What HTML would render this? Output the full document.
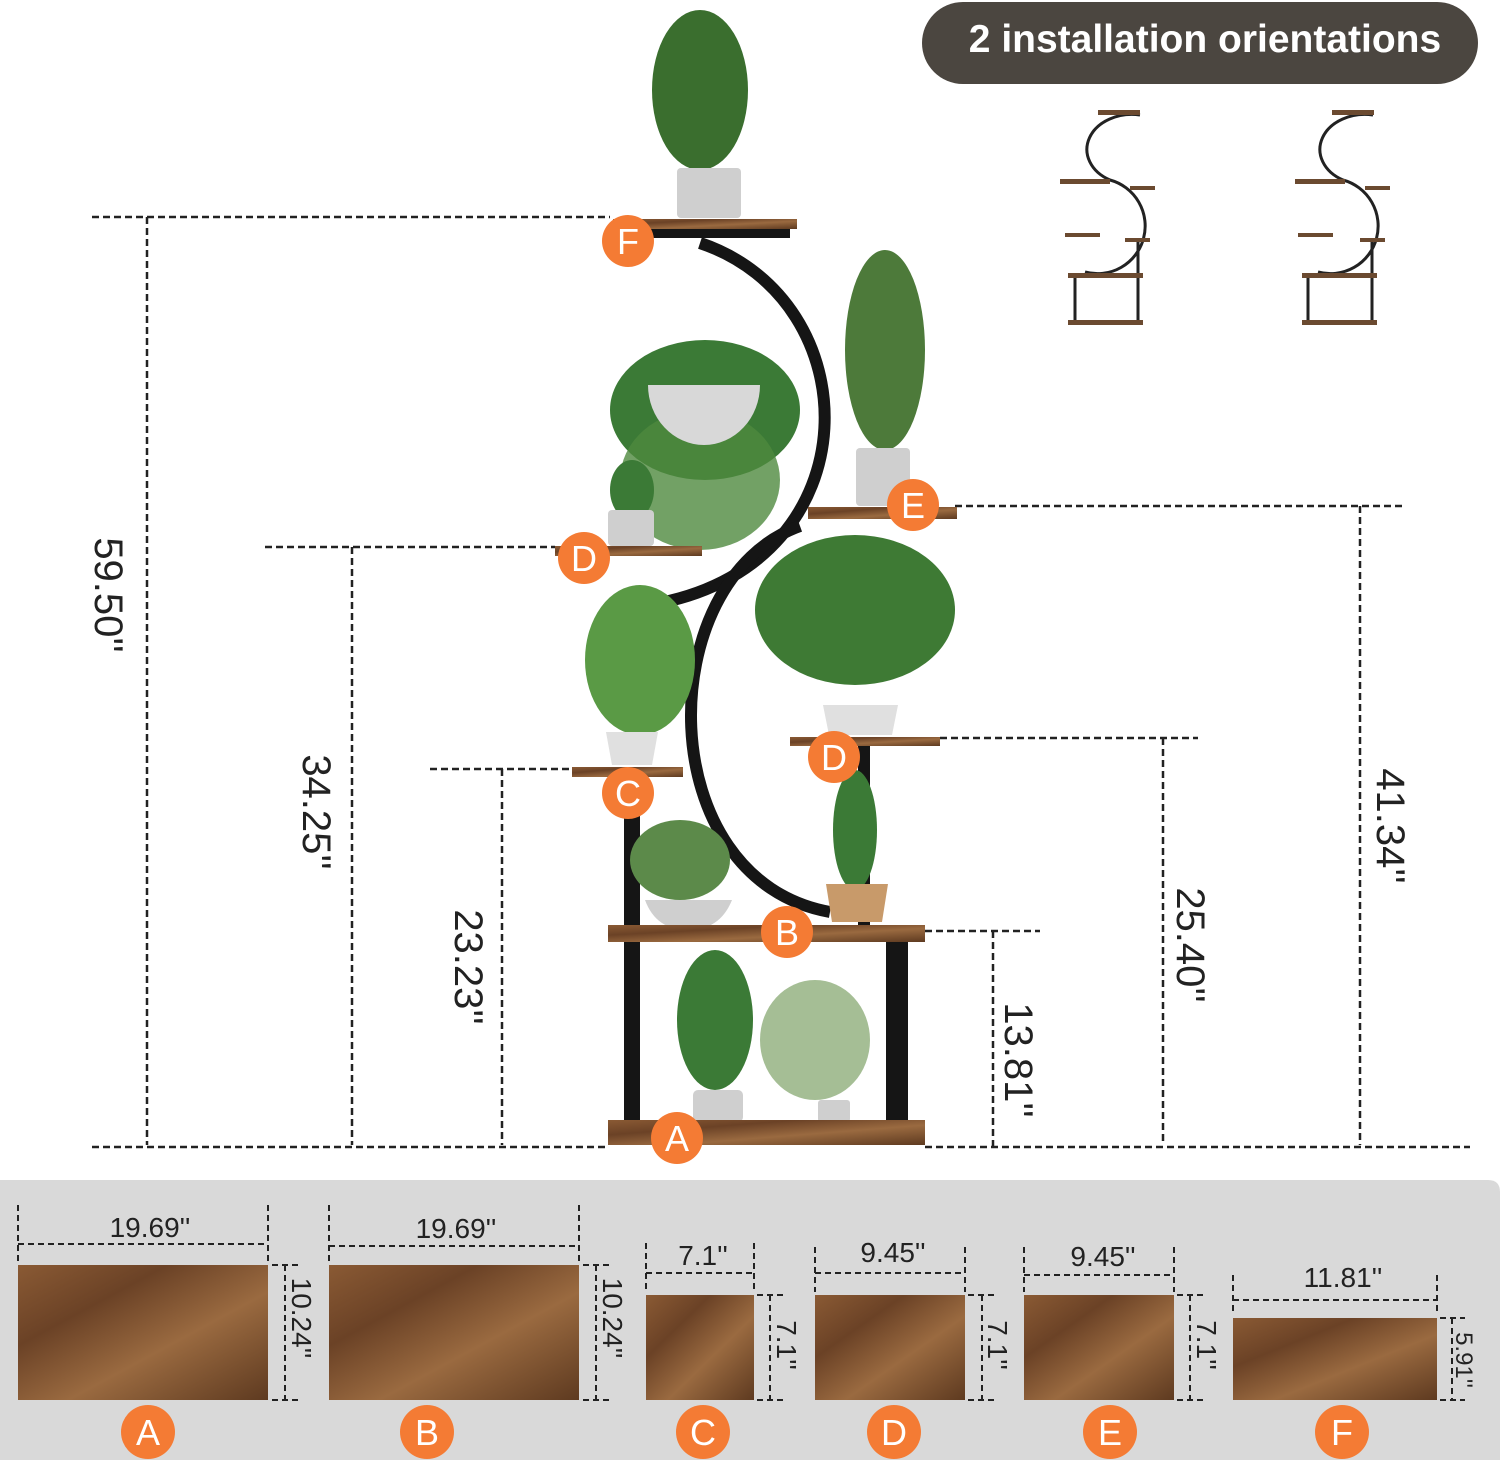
<!DOCTYPE html>
<html><head><meta charset="utf-8"><style>
body{margin:0;background:#fff;}
svg{display:block;font-family:"Liberation Sans",sans-serif;}
</style></head><body>
<svg width="1500" height="1460" viewBox="0 0 1500 1460" xmlns="http://www.w3.org/2000/svg">
<defs>
<linearGradient id="wood" x1="0" y1="0" x2="1" y2="1">
<stop offset="0" stop-color="#8a5a34"/><stop offset="0.3" stop-color="#6b4226"/><stop offset="0.6" stop-color="#9a6a40"/><stop offset="1" stop-color="#5e3a20"/>
</linearGradient>
</defs>
<rect width="1500" height="1460" fill="#fff"/>
<rect x="922" y="2" width="556" height="82" rx="41" fill="#4b4640"/>
<text x="1205" y="52" font-size="39" font-weight="bold" fill="#fff" text-anchor="middle">2 installation orientations</text>
<g stroke="#222" stroke-width="3" fill="none">
<path d="M1140 115 A45 35 0 0 0 1110 180 A45 45 0 0 1 1085 272"/>
<path d="M1373 115 A45 35 0 0 0 1343 180 A45 45 0 0 1 1318 272"/>
<path d="M1075 278 V322 M1138 278 V322 M1138 240 V278 M1308 278 V322 M1372 278 V322 M1372 240 V278"/>
</g>
<g fill="#6b4a30">
<rect x="1098" y="110" width="42" height="5"/><rect x="1060" y="179" width="50" height="5"/><rect x="1130" y="186" width="25" height="4"/>
<rect x="1065" y="233" width="35" height="4"/><rect x="1125" y="238" width="25" height="4"/><rect x="1068" y="273" width="75" height="5"/><rect x="1068" y="320" width="75" height="5"/>
<rect x="1332" y="110" width="42" height="5"/><rect x="1295" y="179" width="50" height="5"/><rect x="1365" y="186" width="25" height="4"/>
<rect x="1298" y="233" width="35" height="4"/><rect x="1360" y="238" width="25" height="4"/><rect x="1302" y="273" width="75" height="5"/><rect x="1302" y="320" width="75" height="5"/>
</g>
<g stroke="#222" stroke-width="2.5" stroke-dasharray="7,4" fill="none">
<path d="M92 217 H610 M147 217 V1145 M92 1147 H605 M925 1147 H1470"/>
<path d="M265 547 H555 M352 547 V1145"/>
<path d="M430 769 H572 M502 769 V1145"/>
<path d="M925 931 H1040 M993 931 V1147"/>
<path d="M940 738 H1198 M1163 738 V1145"/>
<path d="M955 506 H1405 M1360 506 V1145"/>
</g>
<g font-size="40" fill="#222">
<text transform="translate(95,595) rotate(90)" text-anchor="middle">59.50''</text>
<text transform="translate(303,812) rotate(90)" text-anchor="middle">34.25''</text>
<text transform="translate(455,967) rotate(90)" text-anchor="middle">23.23''</text>
<text transform="translate(1005,1060) rotate(90)" text-anchor="middle">13.81''</text>
<text transform="translate(1177,945) rotate(90)" text-anchor="middle">25.40''</text>
<text transform="translate(1377,826) rotate(90)" text-anchor="middle">41.34''</text>
</g>
<g stroke="#151515" stroke-width="12" fill="none">
<path d="M700 243 C 870 300, 875 560, 660 603"/>
<path d="M800 526 C 650 580, 650 880, 830 912"/>
</g>
<g fill="#151515">
<rect x="624" y="777" width="16" height="345"/><rect x="886" y="942" width="22" height="180"/><rect x="858" y="745" width="12" height="180"/>
</g>
<g fill="#2f6b2a">
<ellipse cx="700" cy="90" rx="48" ry="80" fill="#3a6e2e"/>
<ellipse cx="885" cy="350" rx="40" ry="100" fill="#4d7a3a"/>
<ellipse cx="705" cy="410" rx="95" ry="70" fill="#3b7a36"/>
<ellipse cx="700" cy="480" rx="80" ry="70" fill="#4f8a3f" opacity="0.8"/>
<ellipse cx="632" cy="490" rx="22" ry="30" fill="#3b7a36"/>
<ellipse cx="855" cy="610" rx="100" ry="75" fill="#3e7a34"/>
<ellipse cx="640" cy="660" rx="55" ry="75" fill="#5a9a45"/>
<ellipse cx="680" cy="860" rx="50" ry="40" fill="#5c8a4a"/>
<ellipse cx="855" cy="830" rx="22" ry="60" fill="#3b7a36"/>
<ellipse cx="715" cy="1020" rx="38" ry="70" fill="#3b7a36"/>
<ellipse cx="815" cy="1040" rx="55" ry="60" fill="#8fae7a" opacity="0.8"/>
</g>
<g fill="#cfcfcf">
<rect x="677" y="168" width="64" height="50" rx="4"/>
<path d="M648 385 H760 A56 60 0 0 1 648 385Z" fill="#d8d8d8"/>
<rect x="856" y="448" width="54" height="58" rx="4"/>
<rect x="608" y="510" width="46" height="36" rx="4"/>
<path d="M823 705 H898 L892 735 H829Z" fill="#e0e0e0"/>
<path d="M606 732 H658 L652 765 H612Z" fill="#e0e0e0"/>
<path d="M645 900 H732 Q720 930 688 930 Q656 930 645 900Z"/>
<path d="M826 884 H888 L882 922 H832Z" fill="#c89a6a"/>
<rect x="693" y="1090" width="50" height="32" rx="5"/>
<rect x="818" y="1100" width="32" height="22" rx="3"/>
</g>
<g fill="url(#wood)">
<rect x="608" y="1120" width="317" height="25"/><rect x="608" y="925" width="317" height="17"/>
<rect x="572" y="767" width="111" height="10"/><rect x="555" y="546" width="147" height="10"/>
<rect x="790" y="737" width="150" height="9"/><rect x="808" y="507" width="149" height="12"/>
<rect x="613" y="219" width="184" height="10"/>
</g>
<rect x="620" y="229" width="170" height="9" fill="#151515"/>
<g font-size="36" fill="#fff" text-anchor="middle">
<circle cx="628" cy="241" r="26" fill="#f47b34"/><text x="628" y="254">F</text>
<circle cx="913" cy="505" r="26" fill="#f47b34"/><text x="913" y="518">E</text>
<circle cx="584" cy="558" r="26" fill="#f47b34"/><text x="584" y="571">D</text>
<circle cx="834" cy="757" r="26" fill="#f47b34"/><text x="834" y="770">D</text>
<circle cx="628" cy="793" r="26" fill="#f47b34"/><text x="628" y="806">C</text>
<circle cx="787" cy="932" r="26" fill="#f47b34"/><text x="787" y="945">B</text>
<circle cx="677" cy="1138" r="26" fill="#f47b34"/><text x="677" y="1151">A</text>
</g>
<path d="M0 1180 H1488 Q1500 1180 1500 1192 V1460 H0Z" fill="#d9d9d9"/>
<g fill="url(#wood)">
<rect x="18" y="1265" width="250" height="135"/><rect x="329" y="1265" width="250" height="135"/>
<rect x="646" y="1295" width="108" height="105"/><rect x="815" y="1295" width="150" height="105"/>
<rect x="1024" y="1295" width="150" height="105"/><rect x="1233" y="1318" width="204" height="82"/>
</g>
<g stroke="#222" stroke-width="2" stroke-dasharray="6,4" fill="none">
<path d="M18 1205 V1262 M268 1205 V1262 M18 1244 H268 M272 1265 H300 M272 1400 H300 M285 1265 V1400"/>
<path d="M329 1205 V1262 M579 1205 V1262 M329 1246 H579 M583 1265 H611 M583 1400 H611 M596 1265 V1400"/>
<path d="M646 1243 V1292 M754 1243 V1292 M646 1273 H754 M757 1295 H785 M757 1400 H785 M770 1295 V1400"/>
<path d="M815 1247 V1292 M965 1247 V1292 M815 1273 H965 M968 1295 H996 M968 1400 H996 M982 1295 V1400"/>
<path d="M1024 1247 V1292 M1174 1247 V1292 M1024 1275 H1174 M1177 1295 H1205 M1177 1400 H1205 M1190 1295 V1400"/>
<path d="M1233 1275 V1315 M1437 1275 V1315 M1233 1300 H1437 M1440 1318 H1465 M1440 1400 H1465 M1452 1318 V1400"/>
</g>
<g font-size="28" fill="#222" text-anchor="middle">
<text x="150" y="1237">19.69''</text><text x="456" y="1238">19.69''</text>
<text x="703" y="1265">7.1''</text><text x="893" y="1262">9.45''</text>
<text x="1103" y="1266">9.45''</text><text x="1343" y="1287">11.81''</text>
<text transform="translate(292,1318) rotate(90)" text-anchor="middle">10.24''</text>
<text transform="translate(603,1318) rotate(90)" text-anchor="middle">10.24''</text>
<text transform="translate(777,1345) rotate(90)" text-anchor="middle">7.1''</text>
<text transform="translate(988,1345) rotate(90)" text-anchor="middle">7.1''</text>
<text transform="translate(1197,1345) rotate(90)" text-anchor="middle">7.1''</text>
<text transform="translate(1456,1360) rotate(90)" text-anchor="middle" font-size="24">5.91''</text>
</g>
<g font-size="36" fill="#fff" text-anchor="middle">
<circle cx="148" cy="1432" r="27" fill="#f47b34"/><text x="148" y="1445">A</text>
<circle cx="427" cy="1432" r="27" fill="#f47b34"/><text x="427" y="1445">B</text>
<circle cx="703" cy="1432" r="27" fill="#f47b34"/><text x="703" y="1445">C</text>
<circle cx="894" cy="1432" r="27" fill="#f47b34"/><text x="894" y="1445">D</text>
<circle cx="1110" cy="1432" r="27" fill="#f47b34"/><text x="1110" y="1445">E</text>
<circle cx="1342" cy="1432" r="27" fill="#f47b34"/><text x="1342" y="1445">F</text>
</g>
</svg>
</body></html>
